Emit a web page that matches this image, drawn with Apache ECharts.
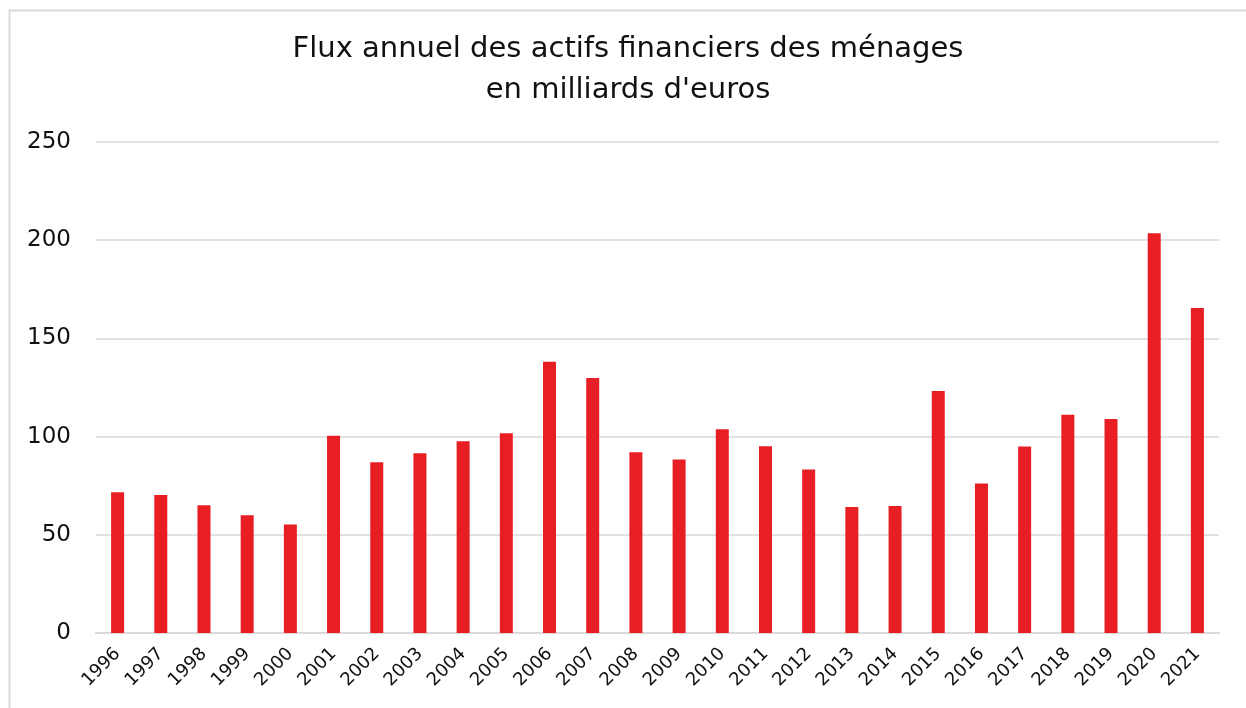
<!DOCTYPE html>
<html>
<head>
<meta charset="utf-8">
<script src="https://cdn.jsdelivr.net/npm/echarts@6/dist/echarts.min.js"></script>
<style>
html,body{margin:0;padding:0;background:#fff;}
#chart{width:1246px;height:708px;}
</style>
</head>
<body>
<div id="chart"></div>
<script>
const titleLines = ["Flux annuel des actifs financiers des ménages", "en milliards d'euros"];
const years = ["1996","1997","1998","1999","2000","2001","2002","2003","2004","2005","2006","2007","2008","2009","2010","2011","2012","2013","2014","2015","2016","2017","2018","2019","2020","2021"];
const flows = [71.7,70.3,65.0,59.9,55.3,100.4,86.9,91.5,97.6,101.7,138.1,129.9,92.0,88.4,103.8,95.1,83.3,64.2,64.7,123.2,76.1,94.9,111.1,108.9,203.5,165.5];
const yTicks = [0,50,100,150,200,250];

const FONT = "'DejaVu Sans', sans-serif";
const chart = echarts.init(document.getElementById('chart'), null, {renderer:'canvas'});
chart.setOption({
  backgroundColor:'#fff',
  animation:false,
  graphic:[{
    type:'rect', left:7, top:8, shape:{x:0,y:0,width:1260,height:720},
    style:{fill:'none', stroke:'#d9d9d9', lineWidth:2}, silent:true
  }],
  title:{
    text: titleLines.join('\n'),
    left: 628, top: 29, textAlign:'center', padding:0,
    textStyle:{fontFamily:FONT, fontSize:29, fontWeight:'normal', color:'#111', lineHeight:41}
  },
  grid:{left:96, right:27, top:142, bottom:75, containLabel:false},
  xAxis:{
    type:'category', data:years,
    axisLine:{show:true, lineStyle:{color:'#d9d9d9', width:2}},
    axisTick:{show:false},
    axisLabel:{rotate:45, interval:0, fontFamily:FONT, fontSize:18, color:'#111', margin:18}
  },
  yAxis:{
    type:'value', min:yTicks[0], max:yTicks[yTicks.length-1], interval:50,
    axisLine:{show:false}, axisTick:{show:false},
    splitLine:{lineStyle:{color:'#d9d9d9', width:1.5}},
    axisLabel:{fontFamily:FONT, fontSize:23, color:'#111', margin:25}
  },
  series:[{
    type:'bar', data:flows, barWidth:13,
    itemStyle:{color:'#E81E25'}
  }]
});
</script>
</body>
</html>
